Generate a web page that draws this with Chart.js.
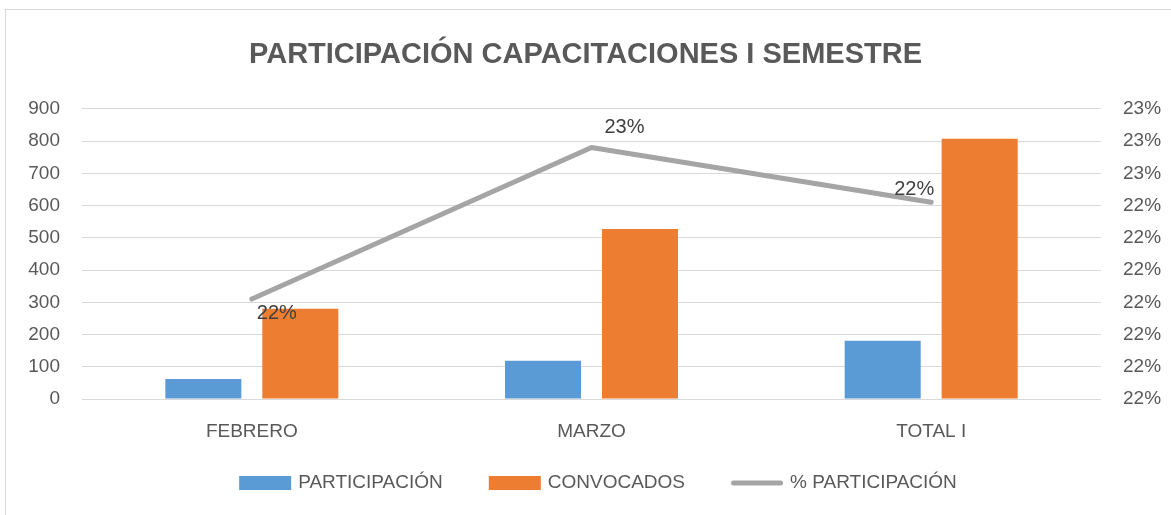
<!DOCTYPE html>
<html>
<head>
<meta charset="utf-8">
<script src="https://cdn.jsdelivr.net/npm/chart.js@4/dist/chart.umd.min.js"></script>
<style>
html,body{margin:0;padding:0;background:#fff;overflow:hidden;}
canvas{display:block;}
</style>
</head>
<body>
<canvas id="c" width="1171" height="515"></canvas>
<script>
const categories = ['FEBRERO', 'MARZO', 'TOTAL I'];
const participacion = [62, 119, 181];
const convocados = [280, 527, 807];
const pctParticipacion = [0.2211, 0.2258, 0.2241];
const pctLabels = ['22%', '23%', '22%'];

const FONT = "'Liberation Sans', Arial, sans-serif";
const TXT = '#595959';

const borderPlugin = {
  id: 'frame',
  beforeDraw(chart) {
    const ctx = chart.ctx;
    ctx.save();
    ctx.fillStyle = '#fff';
    ctx.fillRect(0, 0, chart.width, chart.height);
    ctx.strokeStyle = '#D9D9D9';
    ctx.lineWidth = 1;
    ctx.strokeRect(5.5, 9.5, 1300, 600);
    ctx.restore();
  }
};

const lineLabelPlugin = {
  id: 'lineLabels',
  afterDatasetsDraw(chart, args, opts) {
    const meta = chart.getDatasetMeta(2);
    const ctx = chart.ctx;
    ctx.save();
    ctx.font = '20px ' + FONT;
    ctx.fillStyle = '#404040';
    ctx.textAlign = 'center';
    ctx.textBaseline = 'middle';
    meta.data.forEach((pt, i) => {
      const off = opts.offsets[i];
      ctx.fillText(pctLabels[i], pt.x + off[0], pt.y + off[1]);
    });
    ctx.restore();
  }
};

const bottomLegendPlugin = {
  id: 'bottomLegend',
  afterDraw(chart, args, opts) {
    const ctx = chart.ctx;
    ctx.save();
    ctx.font = opts.fontSize + 'px ' + FONT;
    ctx.textBaseline = 'middle';
    ctx.textAlign = 'left';
    const items = chart.data.datasets.map(ds => ({
      ds, w: opts.boxW + opts.textGap + ctx.measureText(ds.label).width
    }));
    const total = items.reduce((s, it) => s + it.w, 0) + opts.itemGap * (items.length - 1);
    let x = opts.centerX - total / 2;
    const y = opts.y;
    items.forEach(it => {
      const ds = it.ds;
      if (ds.type === 'line') {
        ctx.strokeStyle = ds.borderColor;
        ctx.lineWidth = 5;
        ctx.lineCap = 'round';
        ctx.beginPath();
        ctx.moveTo(x + 2.5, y);
        ctx.lineTo(x + opts.boxW - 2.5, y);
        ctx.stroke();
      } else {
        ctx.fillStyle = ds.backgroundColor;
        ctx.fillRect(x, y - opts.boxH / 2, opts.boxW, opts.boxH);
      }
      ctx.fillStyle = TXT;
      ctx.fillText(ds.label, x + opts.boxW + opts.textGap, y);
      x += it.w + opts.itemGap;
    });
    ctx.restore();
  }
};

new Chart(document.getElementById('c'), {
  data: {
    labels: categories,
    datasets: [
      {
        type: 'bar', label: 'PARTICIPACIÓN', data: participacion,
        backgroundColor: '#5B9BD5', yAxisID: 'y', order: 2,
        categoryPercentage: 0.571, barPercentage: 0.784
      },
      {
        type: 'bar', label: 'CONVOCADOS', data: convocados,
        backgroundColor: '#ED7D31', yAxisID: 'y', order: 2,
        categoryPercentage: 0.571, barPercentage: 0.784
      },
      {
        type: 'line', label: '% PARTICIPACIÓN', data: pctParticipacion,
        borderColor: '#A5A5A5', backgroundColor: '#A5A5A5', borderWidth: 5,
        borderCapStyle: 'round', borderJoinStyle: 'round',
        pointRadius: 0, pointHoverRadius: 0, tension: 0, yAxisID: 'y1', order: 1
      }
    ]
  },
  options: {
    responsive: false,
    animation: false,
    events: [],
    layout: { padding: { top: 10, left: 0, right: 0, bottom: 76 } },
    plugins: {
      title: {
        display: true,
        text: 'PARTICIPACIÓN CAPACITACIONES I SEMESTRE',
        color: TXT,
        font: { family: FONT, size: 29, weight: 'bold' },
        padding: { top: 28, bottom: 36 }
      },
      legend: { display: false },
      tooltip: { enabled: false },
      lineLabels: { offsets: [[25, 14], [33, -20], [-17, -13]] },
      bottomLegend: { fontSize: 19, boxW: 52, boxH: 14, textGap: 7, itemGap: 46, centerX: 598, y: 483 }
    },
    scales: {
      x: {
        grid: { display: false },
        border: { display: false },
        ticks: { color: TXT, font: { family: FONT, size: 19 }, padding: 13 },
        afterFit(scale) { scale.height = 40; }
      },
      y: {
        position: 'left',
        min: 0, max: 900,
        ticks: { stepSize: 100, color: TXT, font: { family: FONT, size: 19 }, padding: 22 },
        grid: { color: '#D9D9D9', lineWidth: 1, drawTicks: false },
        border: { display: false },
        afterFit(scale) { scale.width = 82; }
      },
      y1: {
        position: 'right',
        min: 0.218, max: 0.227,
        ticks: {
          stepSize: 0.001, color: TXT, font: { family: FONT, size: 19 }, padding: 22,
          callback: v => Math.round(Math.round(v * 1000) / 10) + '%'
        },
        grid: { drawOnChartArea: false, drawTicks: false },
        border: { display: false },
        afterFit(scale) { scale.width = 70; }
      }
    }
  },
  plugins: [borderPlugin, lineLabelPlugin, bottomLegendPlugin]
});
</script>
</body>
</html>
